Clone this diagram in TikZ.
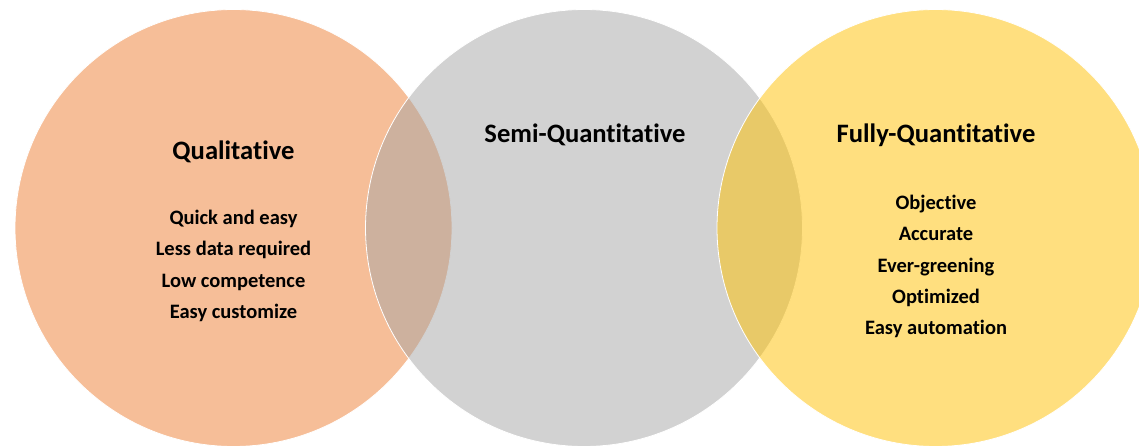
\documentclass[tikz,border=0pt]{standalone}
\usepackage{fontspec}
\setmainfont{Carlito}[Ligatures=NoCommon]
\definecolor{qualorange}{HTML}{ED7D31}
\definecolor{semigray}{HTML}{A5A5A5}
\definecolor{fullyellow}{HTML}{FFC000}
\begin{document}
\begin{tikzpicture}[x=1pt,y=-1pt,
 ring/.style={circle,minimum size=437pt,inner sep=0pt,draw=white,line width=.8pt,fill opacity=.5},
 title/.style={font=\fontsize{26.6}{30}\selectfont\bfseries},
 items/.style={align=center,font=\fontsize{20.5}{31.3}\selectfont\bfseries}]
\useasboundingbox (0,0) rectangle (1139,446);
\clip (0,0) rectangle (1139,446);
% three overlapping circles
\node[ring,fill=qualorange] (qual) at (233.5,228) {};
\node[ring,fill=semigray] (semi) at (584,228) {};
\node[ring,fill=fullyellow] (fully) at (935.5,228) {};
% labels
\node[title] (qualtitle) at (233.5,152) {Qualitative};
\node[items] (qualitems) at (233.5,266) {Quick and easy\\Less data required\\Low competence\\Easy customize};
\node[title] (semititle) at (585,135) {Semi-Quantitative};
\node[title] (fullytitle) at (936,135) {Fully-Quantitative};
\node[items] (fullyitems) at (936,266.5) {Objective\\Accurate\\Ever-greening\\Optimized\\Easy automation};
\end{tikzpicture}
\end{document}
